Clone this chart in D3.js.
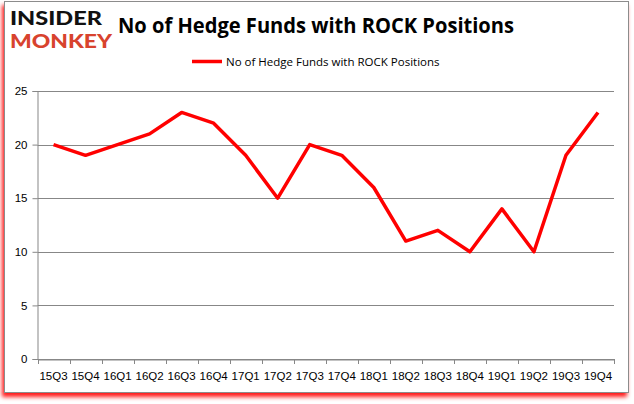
<!DOCTYPE html>
<html><head><meta charset="utf-8">
<script src="https://cdn.jsdelivr.net/npm/d3@7"></script>
<style>
body{margin:0;background:#fff;}
svg{display:block;font-family:"Open Sans","DejaVu Sans",sans-serif;}
</style></head>
<body>
<svg id="c" width="634" height="404"></svg>
<script>
const categories = ["15Q3","15Q4","16Q1","16Q2","16Q3","16Q4","17Q1","17Q2","17Q3","17Q4","18Q1","18Q2","18Q3","18Q4","19Q1","19Q2","19Q3","19Q4"];
const values = [20,19,20,21,23,22,19,15,20,19,16,11,12,10,14,10,19,23];
const yTicks = [0,5,10,15,20,25];
const seriesName = "No of Hedge Funds with ROCK Positions";
const title = "No of Hedge Funds with ROCK Positions";

const svg = d3.select("#c");
const defs = svg.append("defs");
const f = defs.append("filter").attr("id","sh").attr("x","-5%").attr("y","-5%").attr("width","110%").attr("height","115%");
f.append("feGaussianBlur").attr("in","SourceAlpha").attr("stdDeviation","2").attr("result","b");
f.append("feOffset").attr("dx","-2").attr("dy","4").attr("result","o");
f.append("feFlood").attr("flood-color","#ff0000").attr("flood-opacity","0.9");
f.append("feComposite").attr("in2","o").attr("operator","in").attr("result","s");
const m = f.append("feMerge"); m.append("feMergeNode").attr("in","s"); m.append("feMergeNode").attr("in","SourceGraphic");

svg.append("rect").attr("x",4.5).attr("y",1.5).attr("width",624).attr("height",391)
  .attr("fill","#fff").attr("stroke","#8c8c8c").attr("stroke-width",1).attr("filter","url(#sh)");

const L=37.5, R=614, T=91, B=359;
const x = d3.scaleBand().domain(categories).range([L,R]);
const y = d3.scaleLinear().domain([0,25]).range([B,T]);

const g = svg.append("g");
g.selectAll("line.grid").data(yTicks).join("line")
  .attr("x1",L).attr("x2",R).attr("y1",d=>Math.round(y(d))+0.5).attr("y2",d=>Math.round(y(d))+0.5)
  .attr("stroke","#878787").attr("stroke-width",1);

const ya = g.append("g").attr("transform",`translate(${L},0)`).call(d3.axisLeft(y).tickValues(yTicks).tickSize(5).tickPadding(5));
ya.select(".domain").attr("stroke","#878787");
ya.selectAll(".tick line").attr("stroke","#878787");
ya.selectAll(".tick text").attr("font-size",11.5).attr("fill","#000");

const xa = g.append("g").attr("transform",`translate(0,${B+0.5})`).call(d3.axisBottom(x).tickSize(0).tickPadding(10));
xa.select(".domain").attr("stroke","#878787");
xa.selectAll(".tick text").attr("font-size",11.5).attr("fill","#000").attr("dy","0.9em");
const edges = categories.map(c=>x(c)).concat([R]);
g.selectAll("line.xt").data(edges).join("line")
  .attr("x1",d=>Math.round(d)+0.5).attr("x2",d=>Math.round(d)+0.5).attr("y1",B).attr("y2",B+5)
  .attr("stroke","#878787");

const line = d3.line().x((d,i)=>x(categories[i])+x.bandwidth()/2).y(d=>y(d));
g.append("path").datum(values).attr("d",line).attr("fill","none")
  .attr("stroke","#ff0000").attr("stroke-width",3.5).attr("stroke-linejoin","round");

svg.append("text").attr("x",316).attr("y",33).attr("text-anchor","middle")
  .attr("font-size",20.5).attr("font-weight","bold").attr("fill","#000")
  .attr("textLength",396).attr("lengthAdjust","spacingAndGlyphs").text(title);

svg.append("line").attr("x1",192).attr("x2",222).attr("y1",61.5).attr("y2",61.5)
  .attr("stroke","#ff0000").attr("stroke-width",3.5);
svg.append("text").attr("x",226).attr("y",65.5).attr("font-size",11.5).attr("fill","#000").text(seriesName);

svg.append("text").attr("x",10).attr("y",25).attr("font-family","Lato,'DejaVu Sans',sans-serif")
  .attr("font-weight",900).attr("font-size",19).attr("textLength",92).attr("lengthAdjust","spacingAndGlyphs")
  .attr("fill","#111").text("INSIDER");
svg.append("text").attr("x",10).attr("y",48).attr("font-family","Lato,'DejaVu Sans',sans-serif")
  .attr("font-weight",900).attr("font-size",19).attr("textLength",102).attr("lengthAdjust","spacingAndGlyphs")
  .attr("fill","#d8432e").text("MONKEY");
</script>
</body></html>
